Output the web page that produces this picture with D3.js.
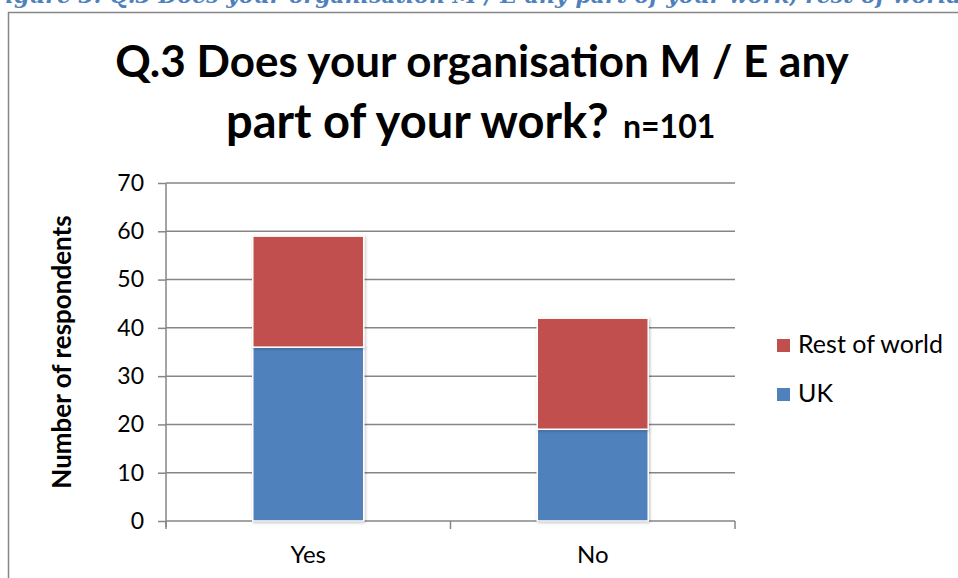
<!DOCTYPE html>
<html>
<head>
<meta charset="utf-8">
<script src="https://cdn.jsdelivr.net/npm/d3@7"></script>
<style>
  html, body { margin: 0; padding: 0; background: #fff; }
  svg { display: block; font-family: Lato, "Open Sans", sans-serif; }
</style>
</head>
<body>
<svg width="958" height="578"></svg>
<script>
// chart values
const categories = ["Yes", "No"];
const seriesNames = ["UK", "Rest of world"];
const ukValues = [36, 19];
const restValues = [23, 23];
const yTicks = [0, 10, 20, 30, 40, 50, 60, 70];

const colours = { "UK": "#4F81BD", "Rest of world": "#C0504D" };

const svg = d3.select("svg");

// caption of the document, cut off by the top edge
svg.append("text")
  .attr("x", -10).attr("y", 3)
  .attr("fill", "#4F81BD")
  .style("font-family", "'DejaVu Serif', serif")
  .style("font-style", "italic")
  .style("font-weight", "bold")
  .style("font-size", "22px")
  .text("Figure 3: Q.3 Does your organisation M / E any part of your work; rest of world, by type of yo");

// chart frame
svg.append("rect")
  .attr("x", 8.5).attr("y", 12.5)
  .attr("width", 1000).attr("height", 600)
  .attr("fill", "none")
  .attr("stroke", "#868686")
  .attr("stroke-width", 1.5);

// title
const title = svg.append("g")
  .attr("font-weight", "bold")
  .attr("fill", "#000");
title.append("text")
  .attr("x", 482).attr("y", 77)
  .attr("text-anchor", "middle")
  .style("font-size", "44px")
  .text("Q.3 Does your organisation M / E any");
const line2 = title.append("text")
  .attr("x", 226).attr("y", 138);
line2.append("tspan")
  .style("font-size", "47px")
  .text("part of your work?");
line2.append("tspan")
  .attr("x", 623)
  .style("font-size", "32px")
  .text("n=101");

const margin = { left: 166, right: 735, top: 183, bottom: 521 };

const x = d3.scaleBand()
  .domain(categories)
  .range([margin.left, margin.right])
  .paddingInner(0.61)
  .paddingOuter(0.305);

const y = d3.scaleLinear()
  .domain([0, 70])
  .range([margin.bottom, margin.top]);

// gridlines
svg.append("g")
  .selectAll("line")
  .data(yTicks.filter(d => d > 0))
  .join("line")
  .attr("x1", margin.left).attr("x2", margin.right)
  .attr("y1", d => y(d)).attr("y2", d => y(d))
  .attr("stroke", "#868686")
  .attr("stroke-width", 1.5);

// y axis
const yAxis = svg.append("g")
  .attr("transform", `translate(${margin.left},0)`)
  .call(d3.axisLeft(y).tickValues(yTicks).tickSize(8).tickPadding(14));
yAxis.selectAll("line, path").attr("stroke", "#868686").attr("stroke-width", 1.5);
yAxis.select(".domain").attr("d", `M0,${margin.top}V${margin.bottom + 6}`);
yAxis.selectAll("text")
  .style("font-family", "Lato, 'Open Sans', sans-serif")
  .style("font-size", "23px")
  .attr("fill", "#000");

// x axis
const xAxisG = svg.append("g")
  .attr("transform", `translate(0,${margin.bottom})`);
xAxisG.append("line")
  .attr("x1", margin.left).attr("x2", margin.right)
  .attr("stroke", "#868686").attr("stroke-width", 1.5);
const xTickPos = [margin.left, (margin.left + margin.right) / 2, margin.right];
xAxisG.selectAll(".tk")
  .data(xTickPos)
  .join("line")
  .attr("x1", d => d).attr("x2", d => d)
  .attr("y1", 0).attr("y2", 8)
  .attr("stroke", "#868686").attr("stroke-width", 1.5);
xAxisG.selectAll(".lbl")
  .data(categories)
  .join("text")
  .attr("x", d => x(d) + x.bandwidth() / 2)
  .attr("y", 42)
  .attr("text-anchor", "middle")
  .style("font-size", "24px")
  .text(d => d);

// stacked bars
const rows = categories.map((c, i) => ({ cat: c, "UK": ukValues[i], "Rest of world": restValues[i] }));
const stacked = d3.stack().keys(seriesNames)(rows);

const defs = svg.append("defs");
const f = defs.append("filter").attr("id", "shadow").attr("x", "-10%").attr("y", "-10%").attr("width", "120%").attr("height", "120%");
f.append("feDropShadow").attr("dx", 1).attr("dy", 1).attr("stdDeviation", 1.5).attr("flood-color", "#000").attr("flood-opacity", 0.25);

svg.append("g")
  .selectAll("g")
  .data(stacked)
  .join("g")
  .attr("fill", d => colours[d.key])
  .selectAll("rect")
  .data(d => d)
  .join("rect")
  .attr("x", d => x(d.data.cat))
  .attr("width", x.bandwidth())
  .attr("y", d => y(d[1]))
  .attr("height", d => y(d[0]) - y(d[1]))
  .attr("stroke", "#fff")
  .attr("stroke-width", 1.5)
  .attr("filter", "url(#shadow)");

// y axis title
svg.append("text")
  .attr("transform", "translate(71,352) rotate(-90)")
  .attr("text-anchor", "middle")
  .attr("font-weight", "bold")
  .style("font-size", "26px")
  .text("Number of respondents");

// legend (Rest of world listed first)
const legend = svg.append("g")
  .selectAll("g")
  .data(seriesNames.slice().reverse())
  .join("g")
  .attr("transform", (d, i) => `translate(777,${339 + i * 49})`);
legend.append("rect")
  .attr("width", 13).attr("height", 13)
  .attr("fill", d => colours[d]);
legend.append("text")
  .attr("x", 21).attr("y", 14)
  .style("font-size", "25px")
  .text(d => d);
</script>
</body>
</html>
